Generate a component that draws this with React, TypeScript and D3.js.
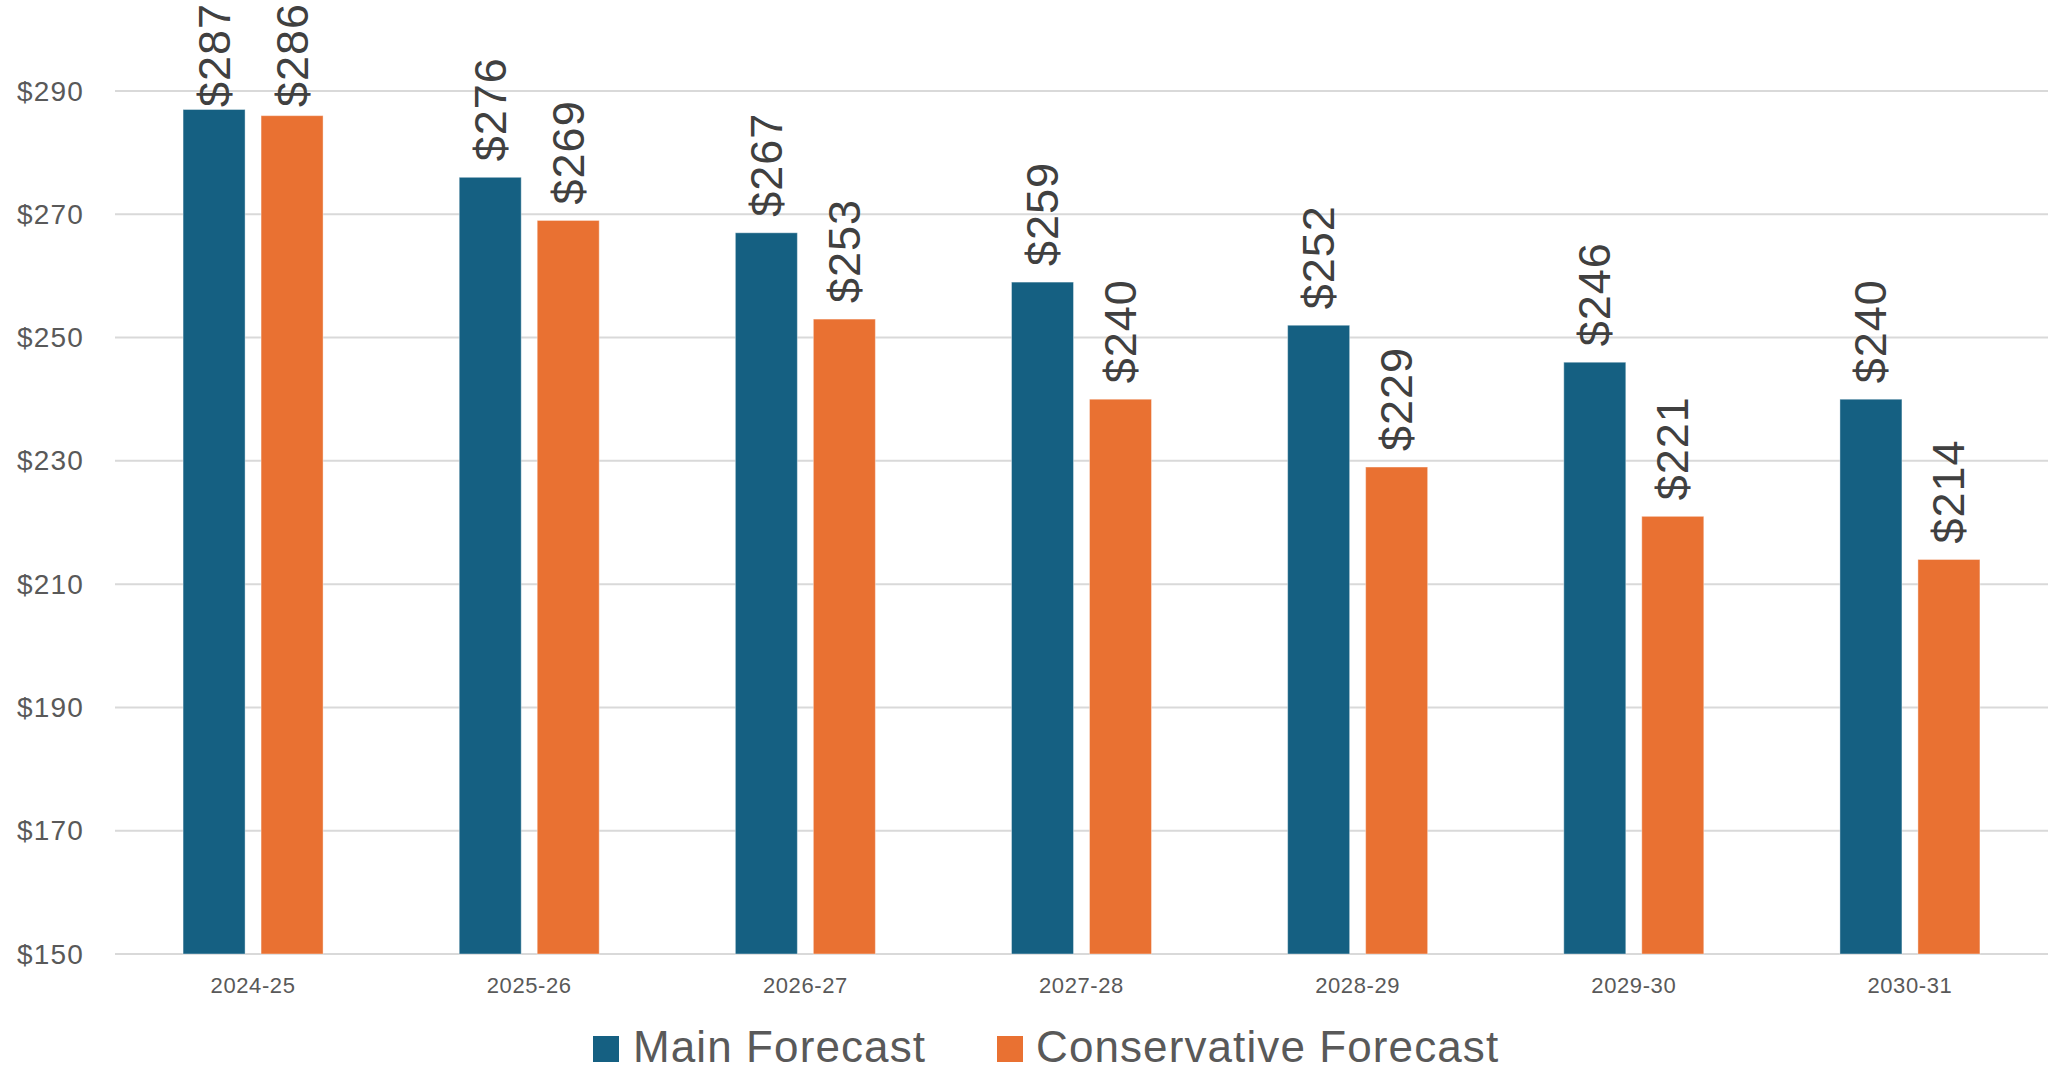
import React from "react";
import * as d3 from "d3";

const categories = ["2024-25", "2025-26", "2026-27", "2027-28", "2028-29", "2029-30", "2030-31"];
const seriesNames = ["Main Forecast", "Conservative Forecast"];
const mainForecast = [287, 276, 267, 259, 252, 246, 240];
const conservativeForecast = [286, 269, 253, 240, 229, 221, 214];
const yTicks = [150, 170, 190, 210, 230, 250, 270, 290];
const colors = ["#156082", "#E97132"];

const W = 2062;
const H = 1071;
const plotLeft = 115;
const plotRight = 2048;
const plotTop = 91;
const plotBottom = 954;

export default function App() {
  const y = d3.scaleLinear().domain([150, 290]).range([plotBottom, plotTop]);
  const x0 = d3.scaleBand<string>().domain(categories).range([plotLeft, plotRight]).paddingInner(0).paddingOuter(0);
  const groupW = 140;
  const x1 = d3.scaleBand<string>().domain(seriesNames).range([0, groupW]).paddingInner(0.205).paddingOuter(0);
  const values = [mainForecast, conservativeForecast];
  const font = "'Liberation Sans', Arial, sans-serif";

  return (
    <svg width={W} height={H} style={{ position: "absolute", left: 0, top: 0, background: "#fff" }} fontFamily={font}>
      <rect x={0} y={0} width={W} height={H} fill="#fff" />
      {yTicks.map((t) => (
        <g key={t}>
          <line x1={plotLeft} x2={plotRight} y1={y(t)} y2={y(t)} stroke="#d9d9d9" strokeWidth={2} />
          <text x={84} y={y(t)} textAnchor="end" dominantBaseline="central" fontSize={28} letterSpacing={1.2} fill="#595959">
            {"$" + t}
          </text>
        </g>
      ))}
      {categories.map((c, i) => {
        const gx = (x0(c) as number) + x0.bandwidth() / 2 - groupW / 2;
        return (
          <g key={c}>
            {seriesNames.map((s, si) => {
              const v = values[si][i];
              const bx = gx + (x1(s) as number);
              const bw = x1.bandwidth();
              const top = y(v);
              const labelStart = Math.max(top - 16, 107);
              return (
                <g key={s}>
                  <rect x={bx} y={top} width={bw} height={plotBottom - top} fill={colors[si]} stroke="#ffffff" strokeOpacity={0.4} strokeWidth={1} />
                  <text
                    transform={`translate(${bx + bw / 2},${labelStart}) rotate(-90)`}
                    textAnchor="start"
                    dominantBaseline="central"
                    fontSize={45}
                    letterSpacing={1}
                    fill="#404040"
                  >
                    {"$" + v}
                  </text>
                </g>
              );
            })}
            <text x={(x0(c) as number) + x0.bandwidth() / 2} y={993} textAnchor="middle" fontSize={22} letterSpacing={0.6} fill="#595959">
              {c}
            </text>
          </g>
        );
      })}
      <g>
        <rect x={593} y={1036} width={26} height={26} fill={colors[0]} />
        <text x={633} y={1062} fontSize={44} letterSpacing={1.1} fill="#595959">{seriesNames[0]}</text>
        <rect x={997} y={1036} width={26} height={26} fill={colors[1]} />
        <text x={1036} y={1062} fontSize={44} letterSpacing={1.1} fill="#595959">{seriesNames[1]}</text>
      </g>
    </svg>
  );
}
